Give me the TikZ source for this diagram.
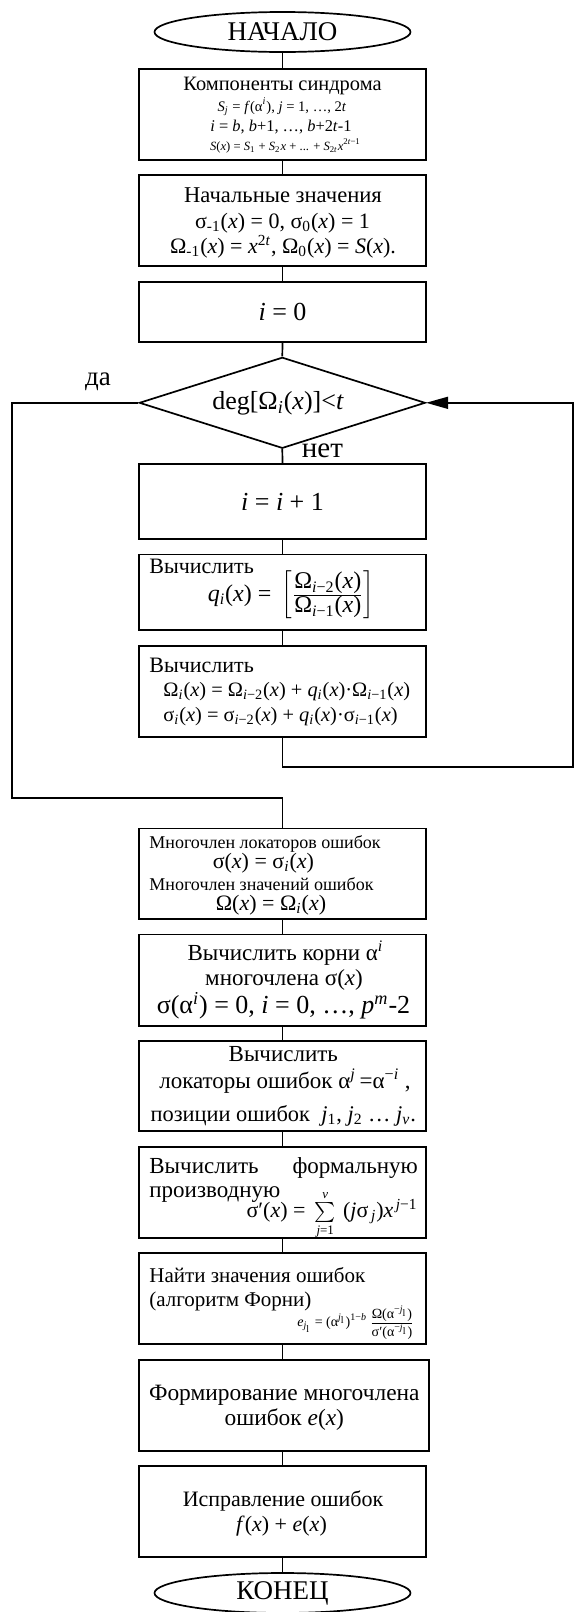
\documentclass[tikz,border=0pt]{standalone}
\usepackage{fontspec}
\setmainfont{Liberation Serif}
\usetikzlibrary{shapes.geometric,arrows.meta}
% italic letters, sub- and superscripts in running text
\newcommand\mi[1]{\textit{#1}}
\newcommand\dn[1]{\textsubscript{#1}}
\newcommand\up[1]{\textsuperscript{#1}}
\newcommand\fsz[1]{\fontsize{#1pt}{#1pt}\selectfont}
\tikzset{
  blk/.style={draw, line width=0.85pt, rectangle, inner sep=0pt, minimum width=143.2pt},
  term/.style={draw, line width=0.85pt, ellipse, inner sep=0pt, minimum width=128pt, minimum height=20pt},
  cond/.style={draw, line width=0.85pt, diamond, inner sep=0pt, minimum width=143pt, minimum height=45.5pt},
  txt/.style={inner sep=0pt, anchor=base},
  link/.style={line width=0.85pt},
}
\begin{document}
\begin{tikzpicture}[x=0.5pt, y=-0.5pt]
\useasboundingbox (0,0) rectangle (574,1612);

% terminals, blocks and the test
\node[term] (e1) at (282.5,32) {};
\node[blk, minimum height=45.5pt] (b1) at (282.5,114.5) {};
\node[blk, minimum height=45.5pt] (b2) at (282.5,220.5) {};
\node[blk, minimum height=30pt] (b3) at (282.5,311.7) {};
\node[cond] (d) at (282.3,402.8) {};
\node[blk, minimum height=37.6pt] (b4) at (282.5,501.7) {};
\node[blk, minimum height=37.8pt] (b5) at (282.5,592.2) {};
\node[blk, minimum height=45.6pt] (b6) at (282.5,691.7) {};
\node[blk, minimum height=45.3pt] (b7) at (282.5,873.7) {};
\node[blk, minimum height=45.8pt] (b8) at (282.5,980.2) {};
\node[blk, minimum height=44.8pt] (b9) at (282.5,1085.9) {};
\node[blk, minimum height=45.8pt] (b10) at (282.5,1192.5) {};
\node[blk, minimum height=45.5pt] (b11) at (282.5,1298.8) {};
\node[blk, minimum height=45.3pt, minimum width=145pt] (b12) at (284.3,1405.4) {};
\node[blk, minimum height=45.6pt] (b13) at (282.5,1511.7) {};
\node[term] (e2) at (282.5,1593) {};

% texts
\node[txt, anchor=center, font=\fsz{13.5}] (e1t) at (282.5,32) {НАЧАЛО};

\node[txt, font=\fsz{10.2}] (t1a) at (282.5,90) {Компоненты синдрома};
\node[txt, font=\fsz{7.3}] (t1b) at (282,111) {\mi{S}\dn{\mi{j}} = \mi{f}(α\up{\mi{i}}), \mi{j} = 1, …, 2\mi{t}};
\node[txt, font=\fsz{8.2}] (t1c) at (281,131) {\mi{i} = \mi{b}, \mi{b}+1, …, \mi{b}+2\mi{t}-1};
\node[txt, font=\fsz{6.3}] (t1d) at (285.5,150) {\mi{S}(\mi{x}) = \mi{S}\dn{1} + \mi{S}\dn{2}\mi{x} + ... + \mi{S}\dn{2\mi{t}}\mi{x}\up{2\mi{t}−1}};

\node[txt, font=\fsz{11.3}] (t2a) at (283,202.7) {Начальные значения};
\node[txt, font=\fsz{11}] (t2b) at (282.5,228.3) {σ\dn{-1}(\mi{x}) = 0, σ\dn{0}(\mi{x}) = 1};
\node[txt, font=\fsz{11}] (t2c) at (283,253.5) {Ω\dn{-1}(\mi{x}) = \mi{x}\up{2\mi{t}}, Ω\dn{0}(\mi{x}) = \mi{S}(\mi{x}).};

\node[txt, anchor=center, font=\fsz{13}] (t3) at (282.5,311.7) {\mi{i} = 0};

\node[txt, anchor=center, font=\fsz{13}] (dt) at (278,403) {deg[Ω\dn{\mi{i}}(\mi{x})]<\mi{t}};
\node[txt, anchor=center, font=\fsz{13.5}] (yes) at (98,382) {да};
\node[txt, anchor=base west, font=\fsz{14.5}] (no) at (301.5,457.5) {нет};

\node[txt, anchor=center, font=\fsz{13}] (t4) at (282.5,501.7) {\mi{i} = \mi{i} + 1};

\node[txt, anchor=base west, font=\fsz{11}] (t5a) at (149,573) {Вычислить};
\node[txt, anchor=center, font=\fsz{12}] (t5b) at (291,595)
  {$\mbox{\mi{q}\dn{\mi{i}}(\mi{x}) = }\left[\frac{\mbox{Ω\dn{\mi{i}−2}(\mi{x})}}{\mbox{Ω\dn{\mi{i}−1}(\mi{x})}}\right]$};

\node[txt, anchor=base west, font=\fsz{11}] (t6a) at (149,672.7) {Вычислить};
\node[txt, anchor=base west, font=\fsz{10.2}] (t6b) at (163,696.7)
  {Ω\dn{\mi{i}}(\mi{x}) = Ω\dn{\mi{i}−2}(\mi{x}) + \mi{q}\dn{\mi{i}}(\mi{x})·Ω\dn{\mi{i}−1}(\mi{x})};
\node[txt, anchor=base west, font=\fsz{10.2}] (t6c) at (163,721.7)
  {σ\dn{\mi{i}}(\mi{x}) = σ\dn{\mi{i}−2}(\mi{x}) + \mi{q}\dn{\mi{i}}(\mi{x})·σ\dn{\mi{i}−1}(\mi{x})};

\node[txt, anchor=base west, font=\fsz{9}] (t7a) at (149,848.3) {Многочлен локаторов ошибок};
\node[txt, font=\fsz{11}] (t7b) at (263.4,868.3) {σ(\mi{x}) = σ\dn{\mi{i}}(\mi{x})};
\node[txt, anchor=base west, font=\fsz{9}] (t7c) at (149,890.7) {Многочлен значений ошибок};
\node[txt, font=\fsz{11}] (t7d) at (271,910) {Ω(\mi{x}) = Ω\dn{\mi{i}}(\mi{x})};

\node[txt, font=\fsz{11.5}] (t8a) at (285.5,960) {Вычислить корни α\up{\mi{i}}};
\node[txt, font=\fsz{11.5}] (t8b) at (284,985) {многочлена σ(\mi{x})};
\node[txt, font=\fsz{13}] (t8c) at (283.5,1013) {σ(α\up{\mi{i}}) = 0, \mi{i} = 0, …, \mi{p}\up{\mi{m}}-2};

\node[txt, font=\fsz{11.5}] (t9a) at (283.3,1061.7) {Вычислить};
\node[txt, font=\fsz{11.5}] (t9b) at (285,1088.3) {локаторы ошибок α\up{\mi{j}}\,=α\up{−\mi{i}} ,};
\node[txt, font=\fsz{11.2}] (t9c) at (283.3,1121.7) {позиции ошибок \ \mi{j}\dn{1}, \mi{j}\dn{2} … \mi{j}\dn{\mi{v}}.};

\node[txt, anchor=base west, font=\fsz{11.5}] (t10a) at (149,1173.3) {Вычислить};
\node[txt, anchor=base east, font=\fsz{11.5}] (t10b) at (418.3,1173.3) {формальную};
\node[txt, anchor=base west, font=\fsz{11.5}] (t10c) at (149,1197.5) {производную};
\node[txt, anchor=base east, font=\fsz{11}] (t10d) at (418,1217.5)
  {$\mbox{σ′(\mi{x}) = }\sum\limits_{\mbox{\fsz{6.5}\mi{j}=1}}^{\mbox{\fsz{6.5}\mi{v}}}\mbox{\,(\mi{j}σ\dn{\,\mi{j}})\mi{x}\up{\,\mi{j}−1}}$};

\node[txt, anchor=base west, font=\fsz{10.5}] (t11a) at (149,1282.7) {Найти значения ошибок};
\node[txt, anchor=base west, font=\fsz{10.5}] (t11b) at (149,1306.7) {(алгоритм Форни)};
\node[txt, anchor=east, font=\fsz{7}] (t11c) at (415,1323)
  {$\mbox{\mi{e}\dn{\mi{j}\dn{l}} = (α\up{\mi{j}\dn{l}})\up{1−\mi{b}}\,}\frac{\mbox{Ω(α\up{−\mi{j}\dn{l}})}}{\mbox{σ′(α\up{−\mi{j}\dn{l}})}}$};

\node[txt, font=\fsz{11.7}] (t12a) at (284.3,1400) {Формирование многочлена};
\node[txt, font=\fsz{11.7}] (t12b) at (284.3,1425) {ошибок \mi{e}(\mi{x})};

\node[txt, font=\fsz{11}] (t13a) at (283,1506.7) {Исправление ошибок};
\node[txt, font=\fsz{11}] (t13b) at (281.5,1531.7) {\mi{f}(\mi{x}) + \mi{e}(\mi{x})};

\node[txt, anchor=center, font=\fsz{13.5}] (e2t) at (282.5,1593) {КОНЕЦ};

% straight connectors
\draw[link] (e1.south) -- (b1.north);
\draw[link] (b1.south) -- (b2.north);
\draw[link] (b2.south) -- (b3.north);
\draw[link] (b3.south) -- (d.north);
\draw[link] (d.south) -- (b4.north);
\draw[link] (b4.south) -- (b5.north);
\draw[link] (b5.south) -- (b6.north);
\draw[link] (b7.south) -- (b8.north);
\draw[link] (b8.south) -- (b9.north);
\draw[link] (b9.south) -- (b10.north);
\draw[link] (b10.south) -- (b11.north);
\draw[link] (b11.south) -- (b11.south |- b12.north);
\draw[link] (b13.north |- b12.south) -- (b13.north);
\draw[link] (b13.south) -- (e2.north);

% "yes" branch and the return loop
\coordinate (yesturn) at (12,797.7);
\coordinate (loopturn) at (573,767.3);
\draw[link] (d.west) -| (yesturn) -| (b7.north);
\draw[link, -{Triangle[length=11pt,width=6pt]}] (b6.south) |- (loopturn) |- (d.east);
\end{tikzpicture}
\end{document}
